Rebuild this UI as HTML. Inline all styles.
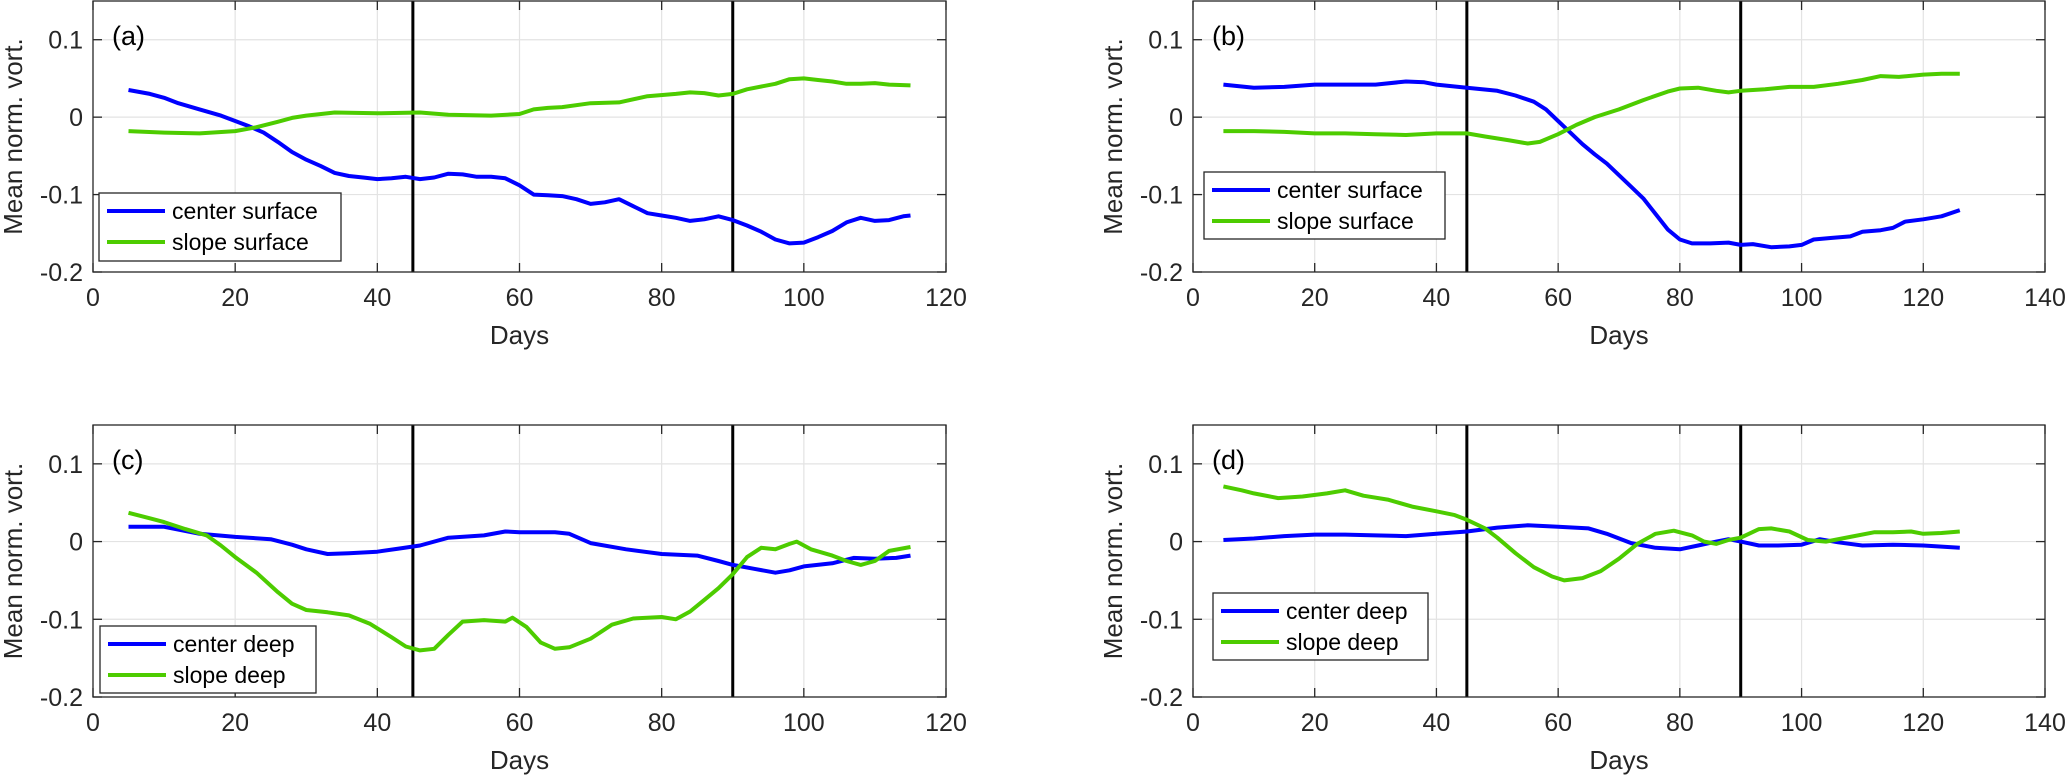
<!DOCTYPE html>
<html><head><meta charset="utf-8">
<style>
html,body{margin:0;padding:0;background:#fff;}
svg{display:block;font-family:"Liberation Sans",Arial,sans-serif;}
</style></head>
<body>
<svg id="fig" width="2068" height="777" viewBox="0 0 2068 777" xmlns="http://www.w3.org/2000/svg"></svg>
<script>
// ---- data ----
const aCenterX = [5,8,10,12,15,18,20,22,24,26,28,30,32,34,36,38,40,42,44,46,48,50,52,54,56,58,60,62,64,66,68,70,72,74,76,78,80,82,84,86,88,90,92,94,96,98,100,102,104,106,108,110,112,114,115];
const aCenterY = [0.035,0.03,0.025,0.018,0.01,0.002,-0.005,-0.012,-0.02,-0.032,-0.045,-0.055,-0.063,-0.072,-0.076,-0.078,-0.08,-0.079,-0.077,-0.08,-0.078,-0.073,-0.074,-0.077,-0.077,-0.079,-0.088,-0.1,-0.101,-0.102,-0.106,-0.112,-0.11,-0.106,-0.115,-0.124,-0.127,-0.13,-0.134,-0.132,-0.128,-0.133,-0.14,-0.148,-0.158,-0.163,-0.162,-0.155,-0.147,-0.136,-0.13,-0.134,-0.133,-0.128,-0.127];
const aSlopeX = [5,10,15,20,23,26,28,30,34,40,46,50,56,60,62,64,66,70,74,78,82,84,86,88,90,92,96,98,100,102,104,106,108,110,112,115];
const aSlopeY = [-0.018,-0.02,-0.021,-0.018,-0.013,-0.006,-0.001,0.002,0.006,0.005,0.006,0.003,0.002,0.004,0.01,0.012,0.013,0.018,0.019,0.027,0.03,0.032,0.031,0.028,0.03,0.036,0.043,0.049,0.05,0.048,0.046,0.043,0.043,0.044,0.042,0.041];
const bCenterX = [5,10,15,20,25,30,35,38,40,45,50,53,56,58,60,62,64,66,68,70,72,74,76,78,80,82,85,88,90,92,95,98,100,102,105,108,110,113,115,117,120,123,126];
const bCenterY = [0.042,0.038,0.039,0.042,0.042,0.042,0.046,0.045,0.042,0.038,0.034,0.028,0.02,0.01,-0.005,-0.02,-0.035,-0.048,-0.06,-0.075,-0.09,-0.105,-0.125,-0.145,-0.158,-0.163,-0.163,-0.162,-0.165,-0.164,-0.168,-0.167,-0.165,-0.158,-0.156,-0.154,-0.148,-0.146,-0.143,-0.135,-0.132,-0.128,-0.12];
const bSlopeX = [5,10,15,20,25,30,35,40,45,48,52,55,57,60,63,66,70,74,78,80,83,86,88,90,94,98,102,106,110,113,116,120,123,126];
const bSlopeY = [-0.018,-0.018,-0.019,-0.021,-0.021,-0.022,-0.023,-0.021,-0.021,-0.025,-0.03,-0.034,-0.032,-0.022,-0.01,0.0,0.01,0.022,0.033,0.037,0.038,0.034,0.032,0.034,0.036,0.039,0.039,0.043,0.048,0.053,0.052,0.055,0.056,0.056];
const cCenterX = [5,10,15,20,25,28,30,33,36,40,43,46,50,55,58,60,65,67,70,75,80,85,88,90,93,96,98,100,104,107,110,113,115];
const cCenterY = [0.019,0.019,0.01,0.006,0.003,-0.004,-0.01,-0.016,-0.015,-0.013,-0.009,-0.005,0.005,0.008,0.013,0.012,0.012,0.01,-0.002,-0.01,-0.016,-0.018,-0.025,-0.03,-0.035,-0.04,-0.037,-0.032,-0.028,-0.021,-0.022,-0.021,-0.018];
const cSlopeX = [5,8,10,13,16,18,20,23,26,28,30,33,36,39,42,44,46,48,50,52,55,58,59,61,63,65,67,70,73,76,80,82,84,86,88,90,92,94,96,98,99,101,104,106,108,110,112,115];
const cSlopeY = [0.037,0.03,0.025,0.016,0.008,-0.005,-0.02,-0.04,-0.065,-0.08,-0.088,-0.091,-0.095,-0.106,-0.123,-0.135,-0.14,-0.138,-0.12,-0.103,-0.101,-0.103,-0.098,-0.11,-0.13,-0.138,-0.136,-0.125,-0.107,-0.099,-0.097,-0.1,-0.09,-0.075,-0.06,-0.042,-0.02,-0.008,-0.01,-0.003,0.0,-0.01,-0.018,-0.025,-0.03,-0.025,-0.012,-0.007];
const dCenterX = [5,10,15,20,25,30,35,40,45,50,55,60,65,68,72,76,80,83,86,88,90,93,96,100,103,106,110,115,120,126];
const dCenterY = [0.002,0.004,0.007,0.009,0.009,0.008,0.007,0.01,0.013,0.018,0.021,0.019,0.017,0.01,-0.002,-0.008,-0.01,-0.005,0.0,0.003,0.0,-0.005,-0.005,-0.004,0.003,-0.001,-0.005,-0.004,-0.005,-0.008];
const dSlopeX = [5,8,10,14,18,22,25,28,32,36,40,43,45,48,50,53,56,59,61,64,67,70,73,76,79,82,84,86,88,90,93,95,98,101,104,108,112,115,118,120,123,126];
const dSlopeY = [0.071,0.066,0.062,0.056,0.058,0.062,0.066,0.059,0.054,0.045,0.039,0.034,0.028,0.017,0.005,-0.015,-0.033,-0.045,-0.05,-0.047,-0.038,-0.022,-0.003,0.01,0.014,0.008,0.0,-0.003,0.002,0.005,0.016,0.017,0.013,0.002,0.0,0.006,0.012,0.012,0.013,0.01,0.011,0.013];
const yTicks = [-0.2,-0.1,0,0.1];
const yTickLabels = ["-0.2","-0.1","0","0.1"];
const xTicks120 = [0,20,40,60,80,100,120];
const xTicks140 = [0,20,40,60,80,100,120,140];
const eventDays = [45,90];

// ---- layout ----
const NS = "http://www.w3.org/2000/svg";
const svg = document.getElementById("fig");
function mk(tag, attrs, parent){const e=document.createElementNS(NS,tag);for(const k in attrs)e.setAttribute(k,attrs[k]);(parent||svg).appendChild(e);return e;}

const panels = [
  {id:"a", L:93, R:946, T:1, B:272, xmax:120, xt:xTicks120, s:[[aCenterX,aCenterY],[aSlopeX,aSlopeY]], names:["center surface","slope surface"], leg:{x:99,y:193,w:242,h:68}},
  {id:"b", L:1193, R:2045, T:1, B:272, xmax:140, xt:xTicks140, s:[[bCenterX,bCenterY],[bSlopeX,bSlopeY]], names:["center surface","slope surface"], leg:{x:1204,y:172,w:241,h:67}},
  {id:"c", L:93, R:946, T:425, B:697, xmax:120, xt:xTicks120, s:[[cCenterX,cCenterY],[cSlopeX,cSlopeY]], names:["center deep","slope deep"], leg:{x:100,y:626,w:216,h:67}},
  {id:"d", L:1193, R:2045, T:425, B:697, xmax:140, xt:xTicks140, s:[[dCenterX,dCenterY],[dSlopeX,dSlopeY]], names:["center deep","slope deep"], leg:{x:1213,y:593,w:215,h:67}}
];
const colors = ["#0000ff","#4dcc00"];
const YMIN=-0.2, YMAX=0.15;

panels.forEach(p=>{
  const g = mk("g",{});
  
  
  const xs = v => p.L + (v/p.xmax)*(p.R-p.L);
  const ys = v => p.B - (v-YMIN)/(YMAX-YMIN)*(p.B-p.T);
  // grid
  p.xt.forEach(t=>{ if(t>0&&t<p.xmax){ const l=mk("line",{x1:xs(t),x2:xs(t),y1:p.T,y2:p.B,stroke:"#e3e3e3","stroke-width":1.2},g);
     }});
  yTicks.forEach(t=>{ if(t>YMIN){ const l=mk("line",{x1:p.L,x2:p.R,y1:ys(t),y2:ys(t),stroke:"#e3e3e3","stroke-width":1.2},g);
     }});
  // event lines
  eventDays.forEach(d=>{ const l=mk("line",{x1:xs(d),x2:xs(d),y1:p.T,y2:p.B,stroke:"#000","stroke-width":3},g);
     });
  // series
  p.s.forEach((s,i)=>{
    const pts = s[0].map((x,k)=>xs(x).toFixed(1)+","+ys(s[1][k]).toFixed(1)).join(" ");
    const pl = mk("polyline",{points:pts,fill:"none",stroke:colors[i],"stroke-width":4,"stroke-linejoin":"round","stroke-linecap":"butt"},g);
    
    
  });
  // axes box
  const box = mk("rect",{x:p.L,y:p.T,width:p.R-p.L,height:p.B-p.T,fill:"none",stroke:"#262626","stroke-width":1.3},g);
   
  // ticks
  p.xt.forEach(t=>{
    mk("line",{x1:xs(t),x2:xs(t),y1:p.B,y2:p.B-9,stroke:"#262626","stroke-width":1.3},g);
    mk("line",{x1:xs(t),x2:xs(t),y1:p.T,y2:p.T+9,stroke:"#262626","stroke-width":1.3},g);
    const tx = mk("text",{x:xs(t),y:p.B+34,"font-size":25,"text-anchor":"middle",fill:"#262626"},g);
    tx.textContent = String(t);
     
  });
  yTicks.forEach((t,k)=>{
    mk("line",{x1:p.L,x2:p.L+9,y1:ys(t),y2:ys(t),stroke:"#262626","stroke-width":1.3},g);
    mk("line",{x1:p.R,x2:p.R-9,y1:ys(t),y2:ys(t),stroke:"#262626","stroke-width":1.3},g);
    const tx = mk("text",{x:p.L-10,y:ys(t)+9,"font-size":25,"text-anchor":"end",fill:"#262626"},g);
    tx.textContent = yTickLabels[k];
     
  });
  // axis labels
  const xl = mk("text",{x:(p.L+p.R)/2,y:p.B+72,"font-size":26,"text-anchor":"middle",fill:"#262626"},g);
  xl.textContent="Days";
   
  const cy=(p.T+p.B)/2, cx=p.L-71;
  const yl = mk("text",{x:cx,y:cy,"font-size":26,"text-anchor":"middle",fill:"#262626",transform:`rotate(-90 ${cx} ${cy})`},g);
  yl.textContent="Mean norm. vort.";
   
  // panel label
  const pl = mk("text",{x:p.L+19,y:p.T+44,"font-size":27,fill:"#000"},g);
  pl.textContent="("+p.id+")";
   
  // legend
  const lg = mk("g",{},g);
   
  mk("rect",{x:p.leg.x,y:p.leg.y,width:p.leg.w,height:p.leg.h,fill:"#fff",stroke:"#262626","stroke-width":1.3},lg);
  p.names.forEach((n,i)=>{
    const ry = p.leg.y + 18 + i*31;
    const e = mk("g",{},lg);
     
    mk("line",{x1:p.leg.x+8,x2:p.leg.x+66,y1:ry,y2:ry,stroke:colors[i],"stroke-width":4},e);
    const t = mk("text",{x:p.leg.x+73,y:ry+8,"font-size":23,fill:"#000"},e);
    t.textContent=n;
  });
});
</script>
</body></html>
